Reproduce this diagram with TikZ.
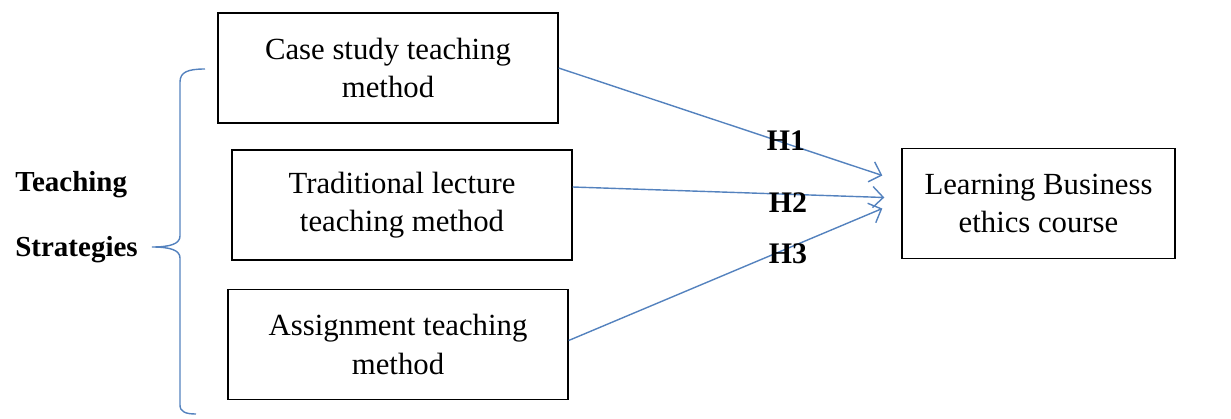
\documentclass[tikz,border=0pt]{standalone}
\usepackage{fontspec}
\setmainfont{Liberation Serif}
\usetikzlibrary{arrows.meta, positioning, calc}
\definecolor{lineblue}{RGB}{84,130,190}

\begin{document}
\begin{tikzpicture}[
    x=0.02cm, y=-0.02cm,
    box/.style={draw, thick, minimum width=6.8cm, minimum height=2.2cm, align=center,
        font=\fontsize{17.5}{22}\selectfont},
    hyp/.style={font=\fontsize{17}{20}\selectfont\bfseries},
    side/.style={anchor=west, inner sep=0pt, font=\fontsize{16.5}{20}\selectfont\bfseries},
    arrow/.style={-{Straight Barb[length=6pt, width=12pt]}, lineblue, thick},
    brace/.style={lineblue, thick},
]
\useasboundingbox (0,0) rectangle (1231,419);

\node[box] (cs) at (388,68) {Case study teaching\\method};
\node[box] (tl) at (402,205) {Traditional lecture\\teaching method};
\node[box] (as) at (398,344.5) {Assignment teaching\\method};
\node[box, minimum width=5.46cm] (lb) at (1038.5,203.5) {Learning Business\\ethics course};

\node[side] (teach) at (15,185) {Teaching};
\node[side] (strat) at (15,250) {Strategies};

% brace
\draw[brace] (205,69) .. controls (188,69) and (180,72) .. (180,82) -- (180,236)
    .. controls (180,244) and (170,247) .. (152,247)
    .. controls (170,247) and (180,250) .. (180,258) -- (180,405)
    .. controls (180,412) and (186,414) .. (196,414);

% hypotheses
\draw[arrow] (cs.east) -- ($(lb.west)+(-19,-28)$);
\draw[arrow] ($(tl.east)+(0,-18)$) -- ($(lb.west)+(-17,-6)$);
\draw[arrow] ($(as.east)+(0,-4)$) -- ($(lb.west)+(-19,5)$);

\node[hyp] (h1) at (786,141) {H1};
\node[hyp] (h2) at (788,203) {H2};
\node[hyp] (h3) at (788,254) {H3};

\end{tikzpicture}
\end{document}
